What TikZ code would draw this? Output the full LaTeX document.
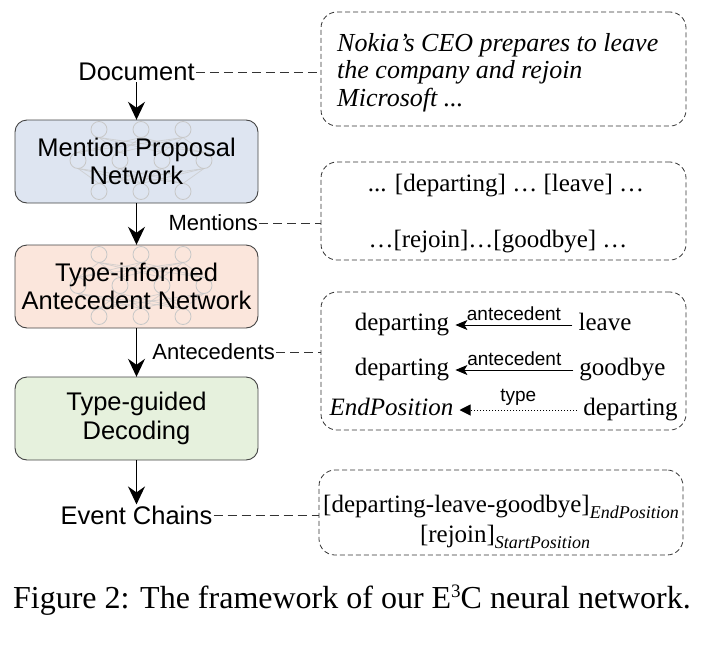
\documentclass[tikz,border=0pt]{standalone}
\usepackage{fontspec}
\setmainfont{Liberation Serif}
\setsansfont{Liberation Sans}
\usetikzlibrary{arrows.meta}
\definecolor{bluefill}{HTML}{DEE5F1}
\definecolor{peachfill}{HTML}{FBE6DC}
\definecolor{greenfill}{HTML}{E6F1DD}
\definecolor{edgegray}{HTML}{444444}
\definecolor{dashgray}{HTML}{333333}
\definecolor{netgray}{HTML}{C8C8C8}
\newcommand\mynet[2]{%
  \foreach \a in {-42,0,42}{\foreach \b in {-63,-21,21,63}{
    \draw[netline, draw opacity=0.7] (#1+\a,#2-23) -- (#1+\b,#2-8);
    \draw[netline, draw opacity=0.7] (#1+\b,#2+8) -- (#1+\a,#2+23);}}
  \foreach \a in {-42,0,42}{\draw[netline] (#1+\a,#2-31) circle (8pt); \draw[netline] (#1+\a,#2+31) circle (8pt);}
  \foreach \b in {-63,-21,21,63}{\draw[netline] (#1+\b,#2) circle (8pt);}
}
\begin{document}
\begin{tikzpicture}[x=1pt,y=-1pt,
  boxshape/.style={draw=edgegray, line width=0.9pt, rounded corners=12pt, minimum width=243pt, minimum height=83pt, inner sep=0pt},
  boxtext/.style={minimum width=243pt, minimum height=83pt, inner sep=0pt, align=center, font=\sffamily\fontsize{25.5}{28.5}\selectfont},
  lbl/.style={font=\sffamily\fontsize{25.5}{29}\selectfont, inner sep=1pt},
  slbl/.style={font=\sffamily\fontsize{22}{26}\selectfont, inner sep=1pt},
  flow/.style={-{Stealth[length=18pt,width=17pt,inset=6pt]}, line width=1.4pt},
  netline/.style={draw=netgray, line width=0.8pt},
  link/.style={draw=dashgray, line width=0.9pt, dash pattern=on 9pt off 5pt},
  exbox/.style={draw=dashgray, line width=0.8pt, dash pattern=on 5pt off 3pt, rounded corners=16pt, inner sep=0pt},
  serif/.style={font=\fontsize{25}{28}\selectfont},
  word/.style={font=\fontsize{25}{28}\selectfont, text height=17pt, text depth=6pt, inner xsep=6pt, inner ysep=0pt},
  small/.style={font=\sffamily\fontsize{19}{20}\selectfont, inner sep=1pt, above=3pt},
  antarrow/.style={-{Stealth[length=12pt,width=10pt,inset=3pt]}, line width=1pt},
  typearrow/.style={-{Triangle[length=11pt,width=11pt]}, line width=1pt, dotted}
]
\useasboundingbox (0,0) rectangle (712,648);

% left column
\node[lbl] (doc) at (136.5,72) {Document};
\node[boxshape, fill=bluefill] (b1bg) at (136.5,161.5) {};
\node[boxshape, fill=peachfill] (b2bg) at (136.5,286.5) {};
\node[boxshape, fill=greenfill] (b3bg) at (136.5,418.5) {};
\mynet{141}{160.5}
\mynet{141}{285.5}
\node[boxtext] (b1) at (136.5,161.5) {Mention Proposal\\Network};
\node[boxtext] (b2) at (136.5,286.5) {Type-informed\\Antecedent Network};
\node[boxtext] (b3) at (136.5,418.5) {Type-guided\\Decoding};
\node[slbl, anchor=east] (ment) at (259,223) {Mentions};
\node[slbl, anchor=east] (ante) at (276,352) {Antecedents};
\node[lbl] (ev) at (136.5,515) {Event Chains};

\draw[flow] (doc.south) -- (b1.north);
\draw[flow] (b1.south) -- (b2.north);
\draw[flow] (b2.south) -- (b3.north);
\draw[flow] (b3.south) -- (ev.north);

% right column boxes
\node[exbox, minimum width=365pt, minimum height=114pt] (ba) at (503.5,69) {};
\node[exbox, minimum width=365pt, minimum height=98pt] (bb) at (503.5,211) {};
\node[exbox, minimum width=365pt, minimum height=138pt] (bc) at (503.5,361) {};
\node[exbox, minimum width=364pt, minimum height=85pt] (bd) at (501,512.5) {};

\draw[link] (doc.east) -- (doc.east -| ba.west);
\draw[link] (ment.east) -- (ment.east -| bb.west);
\draw[link] (ante.east) -- (ante.east -| bc.west);
\draw[link] (ev.east) -- (ev.east -| bd.west);

% box A
\node[font=\fontsize{26}{27.5}\selectfont\itshape, align=left, anchor=west, inner sep=0pt] (ta) at (337,72.5)
  {Nokia’s CEO prepares to leave\\the company and rejoin\\Microsoft ...};

% box B
\node[serif, inner sep=0pt] (tb1) at (506,186) {... [departing] … [leave] …};
\node[serif, inner sep=0pt] (tb2) at (498,242) {…[rejoin]…[goodbye] …};

% box C
\node[word] (c1l) at (402,325) {departing};
\node[word] (c1r) at (605,325) {leave};
\node[word] (c2l) at (402,370) {departing};
\node[word] (c2r) at (622.5,370) {goodbye};
\node[word, font=\fontsize{25}{28}\selectfont\itshape] (c3l) at (391.5,410) {EndPosition};
\node[word] (c3r) at (630.5,410) {departing};
\draw[antarrow] (c1r.west) -- node[small] (la1) {antecedent} (c1l.east);
\draw[antarrow] (c2r.west) -- node[small] (la2) {antecedent} (c2l.east);
\draw[typearrow] (c3r.west) -- node[small] (la3) {type} (c3l.east);

% box D
\node[serif, inner sep=0pt] (td1) at (501,507)
  {[departing-leave-goodbye]\raisebox{-6pt}{\fontsize{18}{18}\selectfont\itshape EndPosition}};
\node[serif, inner sep=0pt] (td2) at (505,537)
  {[rejoin]\raisebox{-6pt}{\fontsize{18}{18}\selectfont\itshape StartPosition}};

% caption
\node[font=\fontsize{32}{36}\selectfont, inner sep=0pt] (cap) at (352,600)
  {Figure 2: The framework of our E\raisebox{11pt}{\fontsize{19}{19}\selectfont 3}C neural network.};
\end{tikzpicture}
\end{document}
